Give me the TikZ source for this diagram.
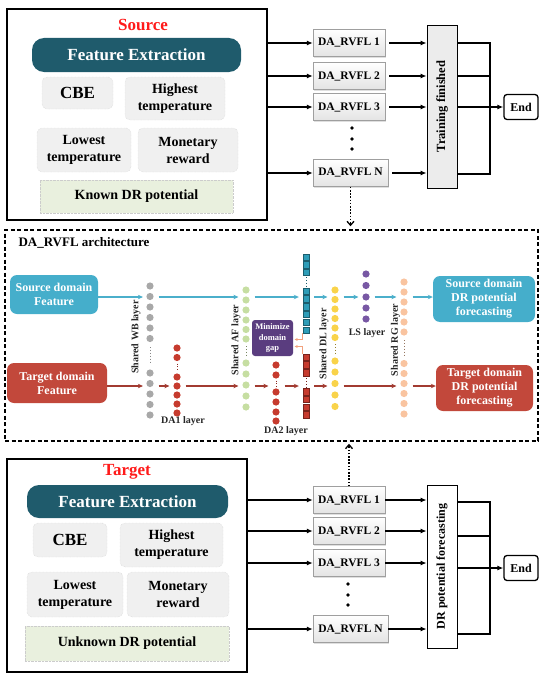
\documentclass[tikz,border=0pt]{standalone}
\usepackage{fontspec}
\setmainfont{Liberation Serif}
\usetikzlibrary{arrows.meta,shadows}
\definecolor{featteal}{HTML}{1F5B6C}
\definecolor{featgray}{HTML}{F0F0F0}
\definecolor{knowngreen}{HTML}{E9F0DE}
\definecolor{srcblue}{HTML}{45AECB}
\definecolor{tgtred}{HTML}{C2483B}
\definecolor{arrblue}{HTML}{4BAFCB}
\definecolor{arrred}{HTML}{A23B31}
\definecolor{wbgray}{HTML}{A8A8A8}
\definecolor{dared}{HTML}{C63B2E}
\definecolor{afgreen}{HTML}{C6DEA2}
\definecolor{sqteal}{HTML}{2E9DB8}
\definecolor{dlyellow}{HTML}{F9D34A}
\definecolor{lspurple}{HTML}{7858A4}
\definecolor{rgpeach}{HTML}{F9C4A0}
\definecolor{minpurple}{HTML}{5A3D7F}
\definecolor{orng}{HTML}{F2A27E}
\definecolor{titlered}{HTML}{FF1A1A}
\begin{document}
\begin{tikzpicture}[x=1pt,y=-1pt,
  every node/.style={font=\bfseries},
  bigbox/.style={draw=black, line width=1.6pt, inner sep=0},
  fe/.style={fill=featteal, rounded corners=12pt, text=white, inner sep=0, font=\fontsize{17}{20}\selectfont\bfseries},
  feat/.style={fill=featgray, draw=black!20, densely dotted, rounded corners=5pt, align=center, inner sep=0, font=\fontsize{14}{17}\selectfont\bfseries},
  known/.style={fill=knowngreen, draw=black!20, densely dotted, inner sep=0, font=\fontsize{14}{17}\selectfont\bfseries},
  ttl/.style={text=titlered, font=\fontsize{17}{20}\selectfont\bfseries},
  rvfl/.style={draw=gray!75, top color=white, bottom color=gray!22, drop shadow={shadow xshift=1.2pt, shadow yshift=-1.2pt, fill=gray!50}, minimum width=72pt, minimum height=27pt, inner sep=0, font=\fontsize{11.5}{13}\selectfont\bfseries},
  karr/.style={line width=1.2pt, -{Latex[length=6pt,width=5pt]}},
  kline/.style={line width=1.2pt},
  endbox/.style={draw=black, line width=1.3pt, rounded corners=3pt, minimum width=34pt, minimum height=25pt, inner sep=0, font=\fontsize{12}{14}\selectfont\bfseries},
  vbox/.style={draw=black, line width=0.8pt, minimum width=30pt, minimum height=163pt, inner sep=0},
  vtext/.style={rotate=90, font=\fontsize{12.5}{14}\selectfont\bfseries},
  dotarr/.style={line width=1.3pt, dash pattern=on 1.6pt off 1.6pt, -{Straight Barb[length=4pt,width=7pt]}},
  dombox/.style={rounded corners=7pt, text=white, align=center, inner sep=0, font=\fontsize{12}{14}\selectfont\bfseries},
  dot/.style={circle, inner sep=0, minimum size=7.2pt},
  sq/.style={rectangle, inner sep=0, minimum size=6.4pt, line width=0.3pt},
  coln/.style={inner sep=0, outer sep=0, minimum width=7.2pt, minimum height=4pt},
  lbl/.style={inner sep=0, text=black!85, font=\fontsize{10}{12}\selectfont\bfseries},
  barr/.style={draw=arrblue, line width=1.1pt, -{Stealth[length=5pt,width=4.5pt]}, shorten <=5pt, shorten >=4pt},
  rarr/.style={draw=arrred, line width=1.1pt, -{Stealth[length=5pt,width=4.5pt]}, shorten <=5pt, shorten >=4pt},
  oarr/.style={draw=orng, line width=0.8pt, -{Stealth[length=3pt,width=3pt]}, shorten >=1.5pt},
  vdots/.style={line width=0.9pt, dash pattern=on 0.9pt off 2pt}
]
\useasboundingbox (0,0) rectangle (550,685);

% ---------------- Source ----------------
\node[bigbox, minimum width=260pt, minimum height=211pt] (srcbox) at (137,114.5) {};
\node[ttl] (srctitle) at (143,25) {Source};
\node[fe, minimum width=209pt, minimum height=34pt] (srcfe) at (136.5,55) {Feature Extraction};
\node[feat, minimum width=71pt, minimum height=32pt, font=\fontsize{17}{20}\selectfont\bfseries] (srccbe) at (77.5,93) {CBE};
\node[feat, minimum width=100pt, minimum height=43pt] (srchigh) at (175,98.5) {Highest\\temperature};
\node[feat, minimum width=94pt, minimum height=44pt] (srclow) at (84,150) {Lowest\\temperature};
\node[feat, minimum width=100pt, minimum height=44pt] (srcmon) at (188,150) {Monetary\\reward};
\node[known, minimum width=193pt, minimum height=33pt] (srcknown) at (136.5,196.5) {Known DR potential};

\node[rvfl] (s1) at (349,43) {DA\_RVFL 1};
\node[rvfl] (s2) at (349,76) {DA\_RVFL 2};
\node[rvfl] (s3) at (349,107) {DA\_RVFL 3};
\node[rvfl, minimum width=75pt] (sN) at (350.5,173) {DA\_RVFL N};
\foreach \y in {128,139,149} \fill (352,\y) circle (1.8pt);

\node[vbox, fill=gray!15] (train) at (442,106.5) {};
\node[vtext] (traintext) at (train.center) {Training finished};
\node[endbox] (end1) at (521,107) {End};

\foreach \n in {1,2,3,N} {
  \draw[karr] (srcbox.east |- s\n) -- (s\n.west);
  \draw[karr, shorten <=4pt] (s\n.east) -- (train.west |- s\n);
}
\coordinate (tj1) at (490,43);
\coordinate (tj2) at (490,76);
\coordinate (tj4) at (490,174);
\draw[kline] (train.east |- tj1) -- (tj1) -- (tj4) -- (train.east |- tj4);
\draw[kline] (train.east |- tj2) -- (tj2);
\draw[karr] (train.east |- end1) -- (end1.west);

% ---------------- Architecture ----------------
\node[draw, line width=1.5pt, dash pattern=on 4pt off 2.5pt, minimum width=533pt, minimum height=211pt, inner sep=0] (arch) at (271.5,335.5) {};
\draw[dotarr, shorten >=3pt] (sN.south) -- (sN.south |- arch.north);
\node[anchor=west, font=\fontsize{13}{15}\selectfont\bfseries] (archtitle) at (15,243) {DA\_RVFL architecture};

\coordinate (by) at (0,297);
\coordinate (ry) at (0,386);

\node[dombox, fill=srcblue, minimum width=88pt, minimum height=39pt] (srcf) at (54,294.5) {Source domain\\Feature};
\node[dombox, fill=tgtred, minimum width=100pt, minimum height=40pt] (tgtf) at (57,383) {Target domain\\Feature};

% Shared WB layer
\node[coln] (wb) at (150,350) {};
\foreach \y [count=\i] in {286,296.5,307,317.5,328,338.5,373,383.5,394,404.5,415}
  \node[dot, fill=wbgray] (wb\i) at (150,\y) {};
\draw[vdots, draw=wbgray!80!black] (150,347) -- (150,364);
\node[lbl, rotate=90] (lwb) at (136,337) {Shared WB layer};

% DA1 layer
\node[coln] (da1) at (177,380) {};
\foreach \y [count=\i] in {348,357.5,377,386,395,404,413}
  \node[dot, fill=dared] (da1c\i) at (177,\y) {};
\draw[vdots, draw=dared!70!black] (177,363.5) -- (177,372);
\node[lbl] (lda1) at (183,421) {DA1 layer};

% Shared AF layer
\node[coln] (af) at (246,350) {};
\foreach \y [count=\i] in {290,300,310,320,329.5,339,363,374,385,396,407}
  \node[dot, fill=afgreen] (af\i) at (246,\y) {};
\draw[vdots, draw=afgreen!60!black] (246,346) -- (246,357);
\node[lbl, rotate=90] (laf) at (236,340) {Shared AF layer};

% Minimize box
\node[fill=minpurple, rounded corners=3pt, text=white, align=center, minimum width=41pt, minimum height=36pt, inner sep=0, font=\fontsize{8.5}{10.5}\selectfont\bfseries] (minbox) at (272.5,338) {Minimize\\domain\\gap};

% DA2 layer
\node[coln] (da2) at (276,390) {};
\foreach \y [count=\i] in {365,375,392,402,412,421}
  \node[dot, fill=dared] (da2c\i) at (276,\y) {};
\draw[vdots, draw=dared!70!black] (276,380.5) -- (276,388);
\node[lbl] (lda2) at (286,431) {DA2 layer};

% squares column
\node[coln, minimum width=6.4pt] (sqt) at (306,300) {};
\node[coln, minimum width=6.4pt] (sqr) at (306,390) {};
\foreach \y [count=\i] in {257,264.5,272,291,298.8,306.5,314.3,322,330}
  \node[sq, fill=sqteal, draw=sqteal!60!black] (sqt\i) at (306,\y) {};
\draw[vdots, draw=sqteal!60!black] (306,277) -- (306,287);
\foreach \y [count=\i] in {357,364.8,372.6,391.5,399.2,407,414.7}
  \node[sq, fill=dared, draw=dared!60!black] (sqr\i) at (306,\y) {};
\draw[vdots, draw=dared!60!black] (306,378) -- (306,388);

\coordinate (o1) at (0,339.5);
\coordinate (o2) at (0,346.5);
\draw[oarr] ([xshift=-4pt]sqt9.south) |- (minbox.east |- o1);
\draw[oarr] ([xshift=-4pt]sqr1.north) |- (minbox.east |- o2);

% Shared DL layer
\node[coln] (dl) at (335,350) {};
\foreach \y [count=\i] in {290,299.5,309,318.5,328,337.5,361,372,383.5,395,406.5}
  \node[dot, fill=dlyellow] (dl\i) at (335,\y) {};
\draw[vdots, draw=dlyellow!60!black] (335,344) -- (335,355);
\node[lbl, rotate=90] (ldl) at (324,344) {Shared DL layer};

% LS layer
\node[coln] (ls) at (366,297) {};
\foreach \y [count=\i] in {274,285.5,297,308,319}
  \node[dot, fill=lspurple] (ls\i) at (366,\y) {};
\node[lbl] (lls) at (367,333) {LS layer};

% Shared RG layer
\node[coln] (rg) at (404,350) {};
\foreach \y [count=\i] in {282,292,302,312,322,332,363.5,373.5,383.5,393.5,403.5,414}
  \node[dot, fill=rgpeach] (rg\i) at (404,\y) {};
\draw[vdots, draw=rgpeach!60!black] (404,340) -- (404,356);
\node[lbl, rotate=90] (lrg) at (395.5,340) {Shared RG layer};

% output boxes
\node[dombox, fill=srcblue, minimum width=102pt, minimum height=46pt] (srco) at (484,299) {Source domain\\DR potential\\forecasting};
\node[dombox, fill=tgtred, minimum width=97pt, minimum height=46pt] (tgto) at (484.5,388) {Target domain\\DR potential\\forecasting};

% blue arrows
\draw[barr, shorten <=0pt, shorten >=3.5pt] (srcf.east |- by) -- (wb.west |- by);
\draw[barr] (wb.east |- by) -- (af.west |- by);
\draw[barr] (af.east |- by) -- (sqt.west |- by);
\draw[barr] (sqt.east |- by) -- (dl.west |- by);
\draw[barr] (dl.east |- by) -- (ls.west |- by);
\draw[barr] (ls.east |- by) -- (rg.west |- by);
\draw[barr, shorten >=0pt] (rg.east |- by) -- (srco.west |- by);

% red arrows
\draw[rarr, shorten <=0pt, shorten >=3.5pt] (tgtf.east |- ry) -- (wb.west |- ry);
\draw[rarr] (wb.east |- ry) -- (da1.west |- ry);
\draw[rarr] (da1.east |- ry) -- (af.west |- ry);
\draw[rarr] (af.east |- ry) -- (da2.west |- ry);
\draw[rarr] (da2.east |- ry) -- (sqr.west |- ry);
\draw[rarr] (sqr.east |- ry) -- (dl.west |- ry);
\draw[rarr] (dl.east |- ry) -- (rg.west |- ry);
\draw[rarr, shorten >=0pt] (rg.east |- ry) -- (tgto.west |- ry);

% ---------------- Target ----------------
\node[bigbox, minimum width=240pt, minimum height=213pt] (tgtbox) at (127,565.5) {};
\node[ttl] (tgttitle) at (127,472) {Target};
\node[fe, minimum width=201pt, minimum height=33pt] (tgtfe) at (127.5,501.5) {Feature Extraction};
\node[feat, minimum width=74pt, minimum height=34pt, font=\fontsize{17}{20}\selectfont\bfseries] (tgtcbe) at (70,540) {CBE};
\node[feat, minimum width=103pt, minimum height=44pt] (tgthigh) at (171.5,545) {Highest\\temperature};
\node[feat, minimum width=96pt, minimum height=45pt] (tgtlow) at (75,594.5) {Lowest\\temperature};
\node[feat, minimum width=102pt, minimum height=45pt] (tgtmon) at (178,594.5) {Monetary\\reward};
\node[known, minimum width=204pt, minimum height=35pt] (tgtknown) at (127,643.5) {Unknown DR potential};

\node[rvfl] (t1) at (349,500) {DA\_RVFL 1};
\node[rvfl] (t2) at (349,531) {DA\_RVFL 2};
\node[rvfl] (t3) at (349,563) {DA\_RVFL 3};
\node[rvfl, minimum width=75pt] (tN) at (350.5,629) {DA\_RVFL N};
\foreach \y in {584,595,605} \fill (348,\y) circle (1.8pt);

\draw[dotarr, shorten >=2pt] (t1.north) -- (t1.north |- arch.south);

\node[vbox, fill=white] (dr) at (442,566.5) {};
\node[vtext, font=\fontsize{12}{14}\selectfont\bfseries] (drtext) at (dr.center) {DR potential forecasting};
\node[endbox] (end2) at (521,568) {End};

\foreach \n in {1,2,3,N} {
  \draw[karr] (tgtbox.east |- t\n) -- (t\n.west);
  \draw[karr] (t\n.east) -- (dr.west |- t\n);
}
\coordinate (tr1) at (490,502);
\coordinate (tr2) at (490,536);
\coordinate (tr4) at (490,634);
\draw[kline] (dr.east |- tr1) -- (tr1) -- (tr4) -- (dr.east |- tr4);
\draw[kline] (dr.east |- tr2) -- (tr2);
\draw[karr] (dr.east |- end2) -- (end2.west);
\end{tikzpicture}
\end{document}
